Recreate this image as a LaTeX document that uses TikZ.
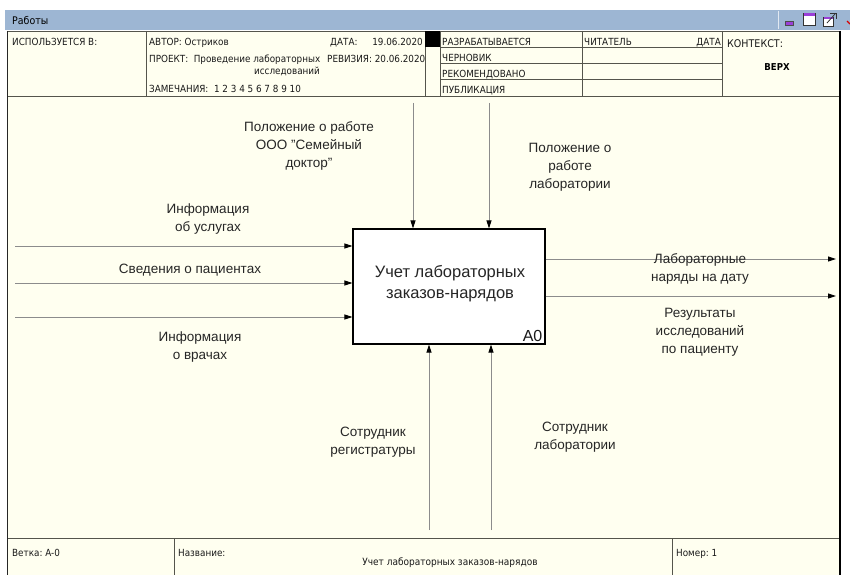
\documentclass[tikz,border=0pt]{standalone}
\usepackage{fontspec}
\setmainfont{Liberation Sans}
\newfontfamily\hdrfont{DejaVu Sans Condensed}
\usetikzlibrary{arrows.meta}

\definecolor{paper}{HTML}{FFFFF0}
\definecolor{titlebar}{HTML}{9DB6D3}
\definecolor{flow}{HTML}{8C8C8C}
\definecolor{rulec}{HTML}{55554C}
\definecolor{iconpurple}{HTML}{9A3FD8}

\tikzset{
  hdr/.style={font=\hdrfont\fontsize{9.8}{11}\selectfont, inner sep=0pt, anchor=base west, text=black!90},
  lbl/.style={font=\fontsize{13.5}{18}\selectfont, align=center, inner sep=0pt, text=black!85},
  flowline/.style={draw=flow, line width=0.9pt, -{Triangle[length=8pt,width=5pt,color=black]}},
  gridline/.style={draw=rulec, line width=0.8pt},
}

\begin{document}
\begin{tikzpicture}[x=1pt,y=-1pt]
\useasboundingbox (0,0) rectangle (850,575);
\fill[white] (0,0) rectangle (850,575);

% window title bar
\fill[titlebar] (5,10) rectangle (850,30);
\draw[white!70!titlebar, line width=0.8pt] (778,11) -- (778,29);
\node[font=\hdrfont\fontsize{10.5}{12}\selectfont, anchor=west, inner sep=0pt] (wtitle) at (12,20) {Работы};
% window buttons
\draw[black!70, fill=iconpurple, line width=0.6pt] (785,21.5) rectangle (793,25);
\draw[black!80, fill=white, line width=0.8pt] (803,13) rectangle (815,25);
\fill[iconpurple] (803.5,13.5) rectangle (814.5,16);
\draw[black!80, fill=white, line width=0.8pt] (823,17) rectangle (833,26);
\fill[iconpurple] (823.5,17.5) rectangle (832.5,19.5);
\draw[black!80, line width=0.8pt] (827,23) -- (835,14);
\draw[black!80, line width=0.8pt] (830,13) -- (836,13) -- (836,19);
\draw[red!85!black, line width=1.2pt] (847,21) -- (850,24);

% sheet
\fill[paper] (7,31) rectangle (840,575);

% header grid
\draw[gridline] (7,31) -- (840,31);
\draw[gridline] (146,31) -- (146,97);
\draw[gridline] (425,31) -- (425,97);
\draw[gridline] (440,31) -- (440,97);
\draw[gridline] (582,31) -- (582,97);
\draw[gridline] (722,31) -- (722,97);
\fill[black] (425,31) rectangle (440,47);
\foreach \yy in {47,63,79} \draw[gridline] (440,\yy) -- (722,\yy);
\draw[gridline, line width=1pt] (7,97) -- (840,97);

% header text
\node[hdr] (used) at (12,46) {ИСПОЛЬЗУЕТСЯ В:};
\node[hdr] (author) at (149,46) {АВТОР: Остриков};
\node[hdr] (datek) at (330,46) {ДАТА:};
\node[hdr, anchor=base east] (datev) at (423,46) {19.06.2020};
\node[hdr] (proj) at (149,62.5) {ПРОЕКТ:\ \ Проведение лабораторных};
\node[hdr, anchor=base] (proj2) at (287,75) {исследований};
\node[hdr] (rev) at (327,62.5) {РЕВИЗИЯ: 20.06.2020};
\node[hdr] (notes) at (149,92.5) {ЗАМЕЧАНИЯ:\ \ 1\ 2\ 3\ 4\ 5\ 6\ 7\ 8\ 9\ 10};
\node[hdr] (st1) at (442,45.5) {РАЗРАБАТЫВАЕТСЯ};
\node[hdr] (st2) at (442,61.5) {ЧЕРНОВИК};
\node[hdr] (st3) at (442,77.5) {РЕКОМЕНДОВАНО};
\node[hdr] (st4) at (442,93.5) {ПУБЛИКАЦИЯ};
\node[hdr] (reader) at (584,45.5) {ЧИТАТЕЛЬ};
\node[hdr, anchor=base east] (rdate) at (721,45.5) {ДАТА};
\node[hdr, font=\hdrfont\fontsize{10.6}{12}\selectfont] (ctx) at (727,48) {КОНТЕКСТ:};
\node[font=\hdrfont\bfseries\fontsize{9.5}{11}\selectfont, inner sep=0pt, anchor=base] (ctxv) at (777,71) {ВЕРХ};

% footer
\draw[gridline, line width=1pt] (7,538) -- (840,538);
\draw[gridline] (174,538) -- (174,575);
\draw[gridline] (672,538) -- (672,575);
\node[hdr] (branch) at (12,556.5) {Ветка:\ A-0};
\node[hdr] (namek) at (178,556.5) {Название:};
\node[hdr, anchor=base, font=\hdrfont\fontsize{10}{11}\selectfont] (namev) at (450,565.5) {Учет лабораторных заказов-нарядов};
\node[hdr] (num) at (676,556.5) {Номер:\ 1};

% sheet border
\draw[black!85, line width=1.6pt] (7.5,31) -- (7.5,575);
\draw[black, line width=1.6pt] (840,31) -- (840,575);

% activity box
\node[draw=black, line width=1.1pt, fill=white, minimum width=192pt, minimum height=115pt, inner sep=0pt] (a0) at (449,286.5) {};
\node[font=\fontsize{16.5}{21}\selectfont, align=center, inner sep=0pt, text=black!85] (a0text) at (450,283.5) {Учет лабораторных\\заказов-нарядов};
\node[font=\fontsize{16}{18}\selectfont, inner sep=0pt, anchor=south east, text=black!90] (a0num) at ([xshift=-3pt,yshift=3pt]a0.south east) {A0};

% free ends of the arrows
\coordinate (in1) at (15,246);
\coordinate (in2) at (15,283);
\coordinate (in3) at (15,317);
\coordinate (c1) at (413,103);
\coordinate (c2) at (489,103);
\coordinate (m1) at (429,530);
\coordinate (m2) at (491,530);
\coordinate (o1) at (836,259);
\coordinate (o2) at (836,296);

% inputs
\draw[flowline] (in1) -- (a0.west |- in1);
\draw[flowline] (in2) -- (a0.west |- in2);
\draw[flowline] (in3) -- (a0.west |- in3);
% controls
\draw[flowline] (c1) -- (c1 |- a0.north);
\draw[flowline] (c2) -- (c2 |- a0.north);
% mechanisms
\draw[flowline] (m1) -- (m1 |- a0.south);
\draw[flowline] (m2) -- (m2 |- a0.south);
% outputs
\draw[flowline] (a0.east |- o1) -- (o1);
\draw[flowline] (a0.east |- o2) -- (o2);

% arrow labels
\node[lbl] (lin1) at (208,219) {Информация\\об услугах};
\node[lbl] (lin2) at (190,270) {Сведения о пациентах};
\node[lbl] (lin3) at (200,347) {Информация\\о врачах};
\node[lbl] (lc1) at (309,146) {Положение о работе\\ООО "Семейный\\доктор"};
\node[lbl] (lc2) at (570,167) {Положение о\\работе\\лаборатории};
\node[lbl] (lm1) at (373,442) {Сотрудник\\регистратуры};
\node[lbl] (lm2) at (575,437) {Сотрудник\\лаборатории};
\node[lbl] (lo1) at (700,268.5) {Лабораторные\\наряды на дату};
\node[lbl] (lo2) at (700,332) {Результаты\\исследований\\по пациенту};
\end{tikzpicture}
\end{document}
